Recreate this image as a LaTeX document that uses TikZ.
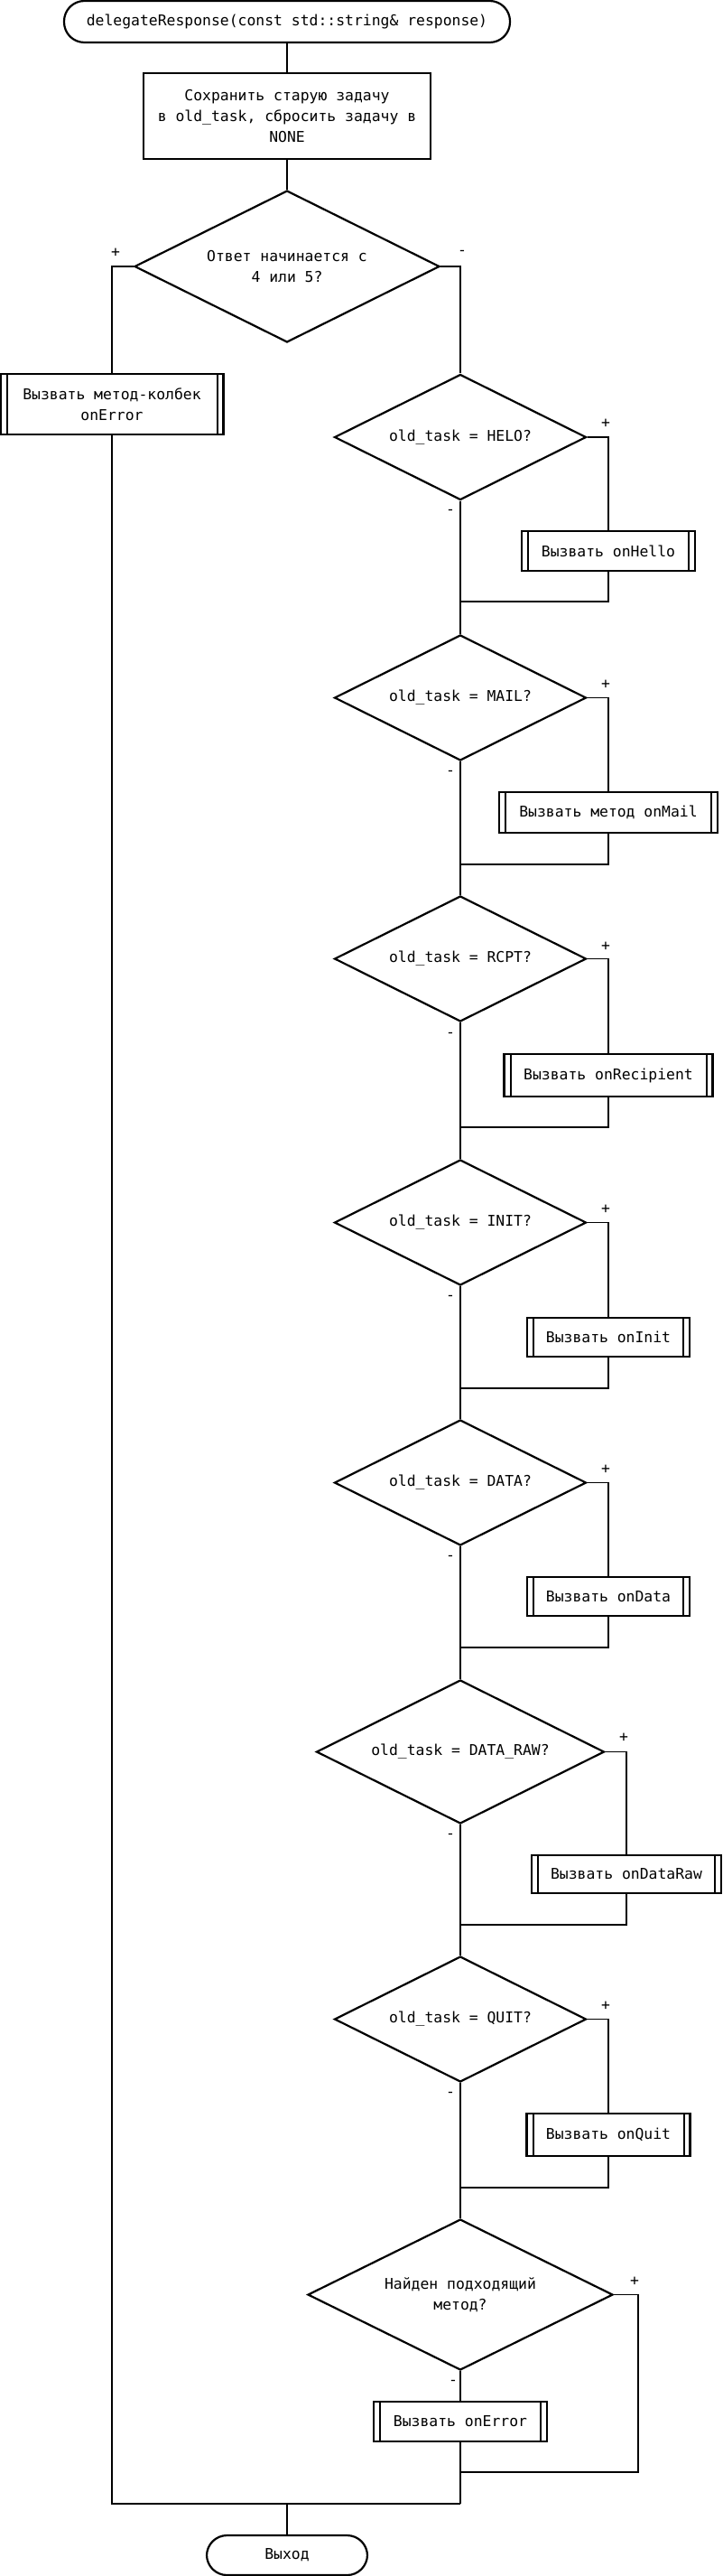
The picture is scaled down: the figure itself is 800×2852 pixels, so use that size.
\documentclass[tikz,border=0pt]{standalone}
\usepackage{fontspec}
\setmainfont{DejaVu Sans Mono}
\usetikzlibrary{shapes.geometric,calc}
\begin{document}
\begin{tikzpicture}[x=1pt,y=-1pt,
  every node/.style={font=\fontsize{16.4}{23}\selectfont},
  shp/.style={draw=black,line width=2.2pt,fill=white},
  term/.style={shp,rectangle,rounded corners=22.5pt,inner sep=0pt},
  proc/.style={shp,rectangle,inner sep=0pt,align=center},
  dec/.style={shp,diamond,aspect=2,inner sep=0pt,align=center,minimum width=279pt,minimum height=139pt},
  sub/.style={shp,rectangle,inner sep=0pt,minimum height=44pt,align=center,
    path picture={\draw[line width=2pt]
      ([xshift=7pt]path picture bounding box.north west) -- ([xshift=7pt]path picture bounding box.south west)
      ([xshift=-7pt]path picture bounding box.north east) -- ([xshift=-7pt]path picture bounding box.south east);}},
  con/.style={draw=black,line width=1.5pt},
  lbl/.style={inner sep=0pt}]
\useasboundingbox (0,0) rectangle (800,2852);
\fill[white] (0,0) rectangle (800,2852);

% nodes
\node[term,minimum width=494pt,minimum height=46pt] (start) at (318,24) {delegateResponse(const std::string\& response)};
\node[proc,minimum width=318pt,minimum height=95pt] (save) at (318,128.5) {Сохранить старую задачу\\в old\_task, сбросить задачу в\\NONE};
\node[dec,minimum width=338pt,minimum height=168pt] (d0) at (318,295) {Ответ начинается с\\4 или 5?};
\node[sub,minimum width=247pt,minimum height=67pt] (err1) at (124,447.5) {Вызвать метод-колбек\\onError};

\node[dec] (dH) at (510,484) {old\_task = HELO?};
\node[sub,minimum width=192pt] (bH) at (674,610) {Вызвать onHello};
\node[dec] (dM) at (510,772.5) {old\_task = MAIL?};
\node[sub,minimum width=242pt,minimum height=45pt] (bM) at (674,899.5) {Вызвать метод onMail};
\node[dec] (dR) at (510,1061.5) {old\_task = RCPT?};
\node[sub,minimum width=231pt,minimum height=47pt] (bR) at (674,1190.5) {Вызвать onRecipient};
\node[dec] (dI) at (510,1353.5) {old\_task = INIT?};
\node[sub,minimum width=180pt,minimum height=43pt] (bI) at (674,1480.5) {Вызвать onInit};
\node[dec] (dD) at (510,1641.5) {old\_task = DATA?};
\node[sub,minimum width=180pt,minimum height=43pt] (bD) at (674,1767.5) {Вызвать onData};
\node[dec,minimum width=319pt,minimum height=159pt] (dW) at (510,1939.5) {old\_task = DATA\_RAW?};
\node[sub,minimum width=210pt,minimum height=42pt] (bW) at (694,2075) {Вызвать onDataRaw};
\node[dec] (dQ) at (510,2235.5) {old\_task = QUIT?};
\node[sub,minimum width=181pt,minimum height=47pt] (bQ) at (674,2363.5) {Вызвать onQuit};
\node[dec,minimum width=338pt,minimum height=167pt] (dF) at (510,2540.5) {Найден подходящий\\метод?};
\node[sub,minimum width=192pt] (err2) at (510,2681) {Вызвать onError};
\node[term,minimum width=178pt,minimum height=44pt] (exit) at (318,2829) {Выход};

% merge coordinates
\coordinate (mH) at (510,666);
\coordinate (mM) at (510,957);
\coordinate (mR) at (510,1248);
\coordinate (mI) at (510,1537);
\coordinate (mD) at (510,1824);
\coordinate (mW) at (510,2131);
\coordinate (mQ) at (510,2422);
\coordinate (mF) at (510,2737);
\coordinate (mE) at (510,2772);
\coordinate (mL) at (124,2772);
\coordinate (mX) at (318,2772);
\coordinate (rF) at (707,2540.5);

% connectors
\path[con] (start) -- (save);
\path[con] (save) -- (d0);
\path[con] (d0.west) -| (err1.north);
\path[con] (d0.east) -| (dH.north);
\path[con] (err1.south) -- (mL) -- (mE);
\path[con] (mX) -- (exit.north);

\path[con] (dH.east) -| (bH.north);
\path[con] (bH.south) |- (mH);
\path[con] (dH.south) -- (mH) -- (dM.north);

\path[con] (dM.east) -| (bM.north);
\path[con] (bM.south) |- (mM);
\path[con] (dM.south) -- (mM) -- (dR.north);

\path[con] (dR.east) -| (bR.north);
\path[con] (bR.south) |- (mR);
\path[con] (dR.south) -- (mR) -- (dI.north);

\path[con] (dI.east) -| (bI.north);
\path[con] (bI.south) |- (mI);
\path[con] (dI.south) -- (mI) -- (dD.north);

\path[con] (dD.east) -| (bD.north);
\path[con] (bD.south) |- (mD);
\path[con] (dD.south) -- (mD) -- (dW.north);

\path[con] (dW.east) -| (bW.north);
\path[con] (bW.south) |- (mW);
\path[con] (dW.south) -- (mW) -- (dQ.north);

\path[con] (dQ.east) -| (bQ.north);
\path[con] (bQ.south) |- (mQ);
\path[con] (dQ.south) -- (mQ) -- (dF.north);

\path[con] (dF.east) -- (rF) |- (mF);
\path[con] (dF.south) -- (err2.north);
\path[con] (err2.south) -- (mF) -- (mE);

% labels
\node[lbl] (p0) at (128,280) {+};
\node[lbl] (n0) at (512,280) {-};
\node[lbl] (pH) at (671,469) {+};
\node[lbl] (nH) at (499,567) {-};
\node[lbl] (pM) at (671,757.5) {+};
\node[lbl] (nM) at (499,856) {-};
\node[lbl] (pR) at (671,1048) {+};
\node[lbl] (nR) at (499,1146) {-};
\node[lbl] (pI) at (671,1339) {+};
\node[lbl] (nI) at (499,1437) {-};
\node[lbl] (pD) at (671,1627) {+};
\node[lbl] (nD) at (499,1725) {-};
\node[lbl] (pW) at (691,1924) {+};
\node[lbl] (nW) at (499,2033) {-};
\node[lbl] (pQ) at (671,2221) {+};
\node[lbl] (nQ) at (499,2319) {-};
\node[lbl] (pF) at (703,2526) {+};
\node[lbl] (nF) at (502,2638) {-};
\end{tikzpicture}
\end{document}
